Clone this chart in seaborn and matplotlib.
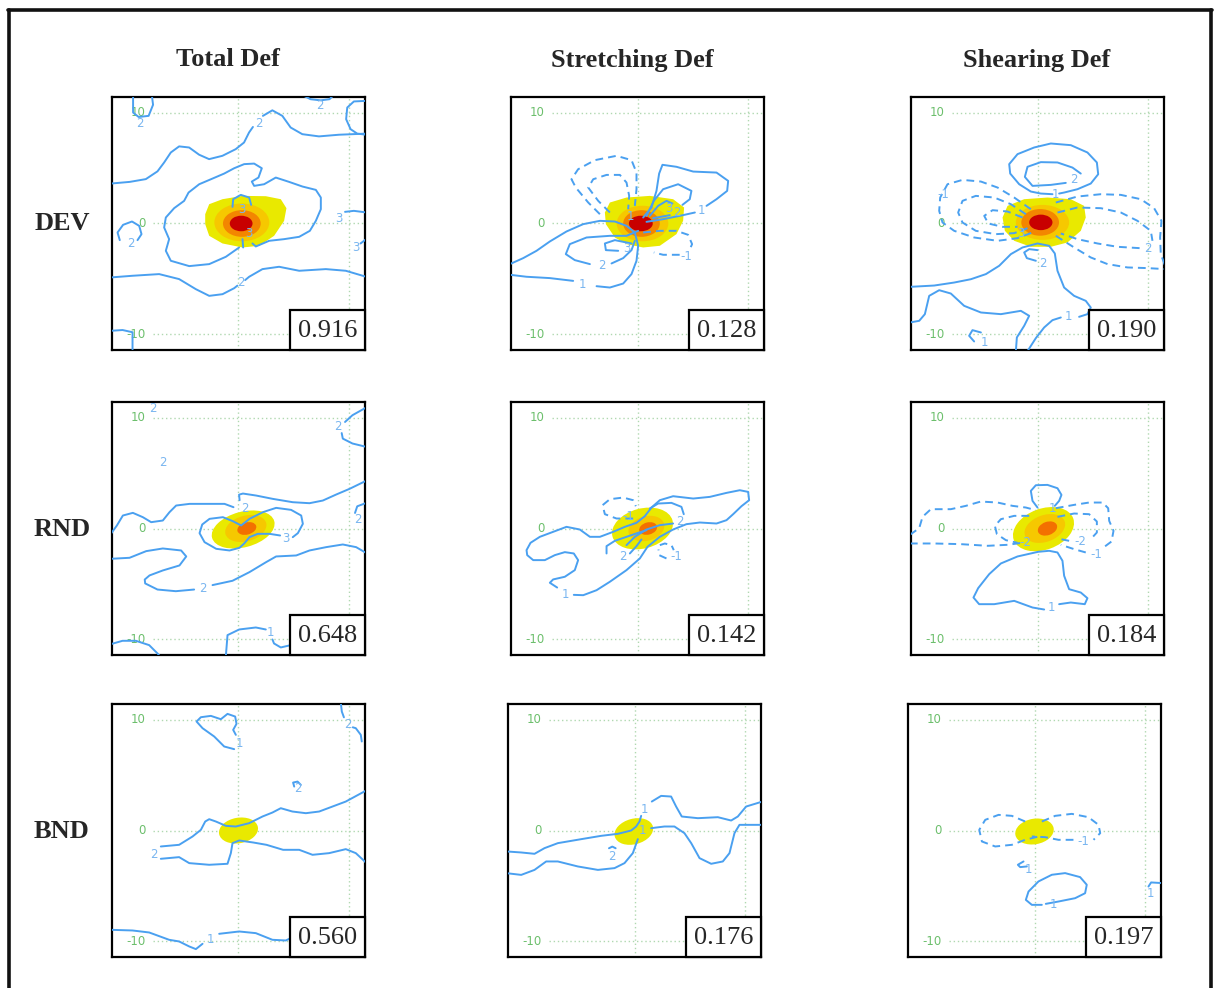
import matplotlib
matplotlib.use('Agg')
import matplotlib.pyplot as plt
import seaborn as sns
from matplotlib.patches import Ellipse, Polygon, Rectangle
from matplotlib.lines import Line2D

sns.set_style('white')
plt.rcParams['font.family'] = ['DejaVu Sans']

# ======================
# DATA (grid units)
# ======================
col_titles = ['Total Def', 'Stretching Def', 'Shearing Def']
row_titles = ['DEV', 'RND', 'BND']
scores = [[0.916, 0.128, 0.190],
          [0.648, 0.142, 0.184],
          [0.560, 0.176, 0.197]]
ytick_values = [10, 0, -10]

# --- DEV / Total ---
dev_total_solid = [
    [(-9.5, 11.5), (-9.5, 10.0), (-9.0, 9.6), (-8.1, 9.7), (-7.7, 10.7), (-7.8, 11.5)],
    [(5.9, 11.5), (6.5, 11.2), (7.4, 11.1), (8.2, 11.2), (8.5, 11.5)],
    [(11.5, 11.05), (10.4, 11.0), (9.8, 10.45), (9.7, 9.4), (10.1, 8.5), (10.7, 8.1), (11.5, 8.0)],
    [(-11.5, 3.6), (-9.8, 3.75), (-8.35, 4.0), (-7.3, 4.7), (-6.7, 5.5), (-6.1, 6.4), (-5.35, 6.95),
     (-4.45, 6.85), (-3.55, 6.2), (-2.65, 5.8), (-1.45, 6.1), (-0.25, 6.7), (0.5, 7.3), (0.95, 8.2), (1.3, 8.7)],
    [(2.2, 9.7), (3.05, 10.2), (3.95, 9.7), (4.7, 8.65), (5.75, 8.05), (7.25, 7.85), (9.05, 8.0), (11.5, 8.1)],
    [(0.06, -2.16), (-1.14, -3.0), (-2.64, -3.66), (-4.44, -3.84), (-6.1, -3.36), (-6.55, -2.46), (-6.25, -1.41),
     (-6.7, -0.36), (-6.55, 0.54), (-5.8, 1.38), (-4.9, 2.04), (-4.5, 2.79), (-3.54, 3.54), (-2.34, 4.05),
     (-1.29, 4.5), (-0.39, 4.98), (0.51, 5.35), (1.41, 5.4), (2.1, 4.98), (1.8, 4.14), (1.2, 3.78), (1.41, 3.39),
     (2.31, 3.54), (3.36, 4.14), (4.56, 3.75), (5.77, 3.33), (6.97, 3.03), (7.42, 2.34), (7.42, 1.29),
     (6.97, 0.24), (6.43, -0.66), (5.47, -1.2), (4.11, -1.41), (2.76, -1.56), (1.56, -2.07), (1.26, -1.8)],
    [(-0.54, 1.5), (-0.48, 2.19), (0.21, 2.58), (0.96, 2.34), (1.14, 1.68)],
    [(0.36, -1.41), (0.42, -2.16)],
    [(-11.5, -4.86), (-9.55, -4.71), (-7.15, -4.56), (-5.35, -5.01), (-3.84, -5.92), (-2.64, -6.52),
     (-1.44, -6.37), (-0.39, -5.83), (-0.1, -5.6)],
    [(0.6, -5.1), (0.96, -4.8), (2.16, -4.11), (3.66, -3.9), (5.47, -4.26), (7.87, -4.11), (9.67, -4.26), (11.5, -4.8)],
    [(-10.7, -1.5), (-10.9, -0.81), (-10.4, -0.12), (-9.6, 0.18), (-8.95, -0.21), (-8.74, -0.96), (-9.1, -1.5)],
    [(9.6, 1.05), (10.4, 1.14), (11.5, 1.0)],
    [(11.5, -1.41), (11.0, -1.8)],
    [(-11.5, -9.67), (-10.45, -9.6), (-9.55, -9.8), (-9.55, -11.5)],
]
dev_total_dashed = []
dev_total_labels = [(1.8, 9.0, '2'), (-8.9, 9.05, '2'), (7.3, 10.6, '2'), (0.2, -5.32, '2'), (-9.7, -1.8, '2'),
                    (9.0, 0.48, '3'), (10.6, -2.16, '3'), (0.3, 1.29, '3'), (0.9, -0.87, '3')]
dev_total_yellow = [(-3.0, 0.84), (-2.64, 1.74), (-1.44, 2.19), (0.36, 2.49), (2.46, 2.46), (3.81, 2.19),
                    (4.32, 1.38), (4.11, 0.24), (3.21, -1.11), (1.86, -2.01), (0.36, -2.16), (-1.44, -1.8),
                    (-2.64, -1.11), (-3.0, -0.06)]
dev_total_cores = [(0.3, 0.1, 4.95, 3.4, 0), (0.3, 0.0, 3.4, 2.4, 0), (0.24, 0.0, 2.05, 1.4, 0)]

# --- DEV / Stretching ---
dev_stretch_solid = [
    [(-11.5, -3.66), (-10.3, -3.12), (-9.1, -2.46), (-7.9, -1.62), (-6.4, -0.72), (-4.9, -0.06), (-3.39, 0.24),
     (-2.04, 0.18), (-0.99, -0.21), (-0.24, -0.81), (0.06, -2.01), (-0.09, -3.36), (-0.54, -4.56), (-1.29, -5.41),
     (-2.49, -5.77), (-3.69, -5.65)],
    [(-5.8, -5.17), (-7.9, -4.92), (-10.0, -4.8), (-11.5, -4.62)],
    [(0.06, -0.66), (-0.99, -1.11), (-2.49, -1.11), (-4.59, -1.26), (-6.1, -1.86), (-6.46, -2.76), (-5.65, -3.3),
     (-4.29, -3.66)],
    [(-2.34, -3.6), (-1.29, -3.12), (-0.54, -2.4), (-0.24, -1.56)],
    [(-0.54, -1.8), (-2.04, -1.5), (-2.94, -1.8), (-2.85, -2.4), (-1.74, -2.46)],
    [(0.51, 0.54), (1.26, 1.44), (1.71, 2.94), (1.95, 4.5), (2.25, 5.29), (3.51, 5.11), (5.02, 4.68), (7.12, 4.59),
     (8.17, 3.84), (8.08, 2.94), (7.12, 2.19), (6.22, 1.59)],
    [(5.17, 0.99), (3.81, 0.69), (2.31, 0.39), (0.81, 0.15)],
    [(0.81, 0.69), (1.47, 2.04), (2.31, 3.09), (3.66, 3.54), (4.86, 2.94), (4.71, 2.19), (4.05, 1.68)],
    [(2.91, 0.75), (1.41, 0.48)],
    [(1.11, 0.69), (1.86, 1.59), (2.61, 2.04), (3.15, 1.8)],
]
dev_stretch_dashed = [
    [(-3.39, 0.84), (-4.44, 1.89), (-5.56, 3.24), (-5.95, 3.99), (-5.35, 4.89), (-3.84, 5.71), (-1.89, 6.1),
     (-0.54, 5.71), (-0.09, 4.59), (-0.09, 3.09), (-0.24, 1.59)],
    [(-2.49, 0.99), (-3.54, 2.04), (-4.44, 3.24), (-3.99, 3.99), (-2.79, 4.38), (-1.59, 4.38), (-0.99, 3.69),
     (-0.75, 2.49), (-0.84, 1.29)],
    [(0.51, -0.81), (2.01, -0.66), (3.51, -0.66), (4.56, -1.02), (4.92, -1.86), (4.65, -2.46)],
    [(3.8, -2.82), (2.31, -2.82), (1.47, -2.61)],
]
dev_stretch_labels = [(-4.95, -5.47, '1'), (-3.24, -3.81, '2'), (-0.99, -2.22, '3'), (5.77, 1.14, '1'),
                      (3.57, 0.99, '2'), (2.85, 1.38, '3'), (4.41, -3.0, '-1'), (-0.6, 0.6, '1')]
dev_stretch_yellow = [(-2.94, 0.99), (-2.49, 1.89), (-0.99, 2.34), (1.11, 2.49), (3.21, 2.19), (4.2, 1.44),
                      (4.11, 0.24), (3.51, -0.96), (2.01, -2.01), (0.51, -2.16), (-0.99, -1.86), (-2.04, -1.26),
                      (-2.85, -0.06)]
dev_stretch_cores = [(0.45, 0.0, 4.65, 3.2, 0), (0.36, 0.0, 3.3, 2.4, 0), (0.3, 0.0, 2.15, 1.4, 0)]

# --- DEV / Shearing ---
dev_shear_solid = [
    [(1.35, 2.64), (0.3, 2.7), (-0.6, 2.88), (-1.65, 3.54), (-2.46, 4.5), (-2.55, 5.35), (-1.8, 6.25), (-0.3, 6.85),
     (1.2, 7.21), (3.0, 7.06), (4.5, 6.4), (5.35, 5.5), (5.47, 4.44), (4.8, 3.6), (3.6, 3.09), (2.4, 2.79),
     (1.95, 2.7)],
    [(2.55, 3.66), (1.2, 3.48), (-0.45, 3.39), (-1.14, 4.2), (-0.9, 5.11), (0.3, 5.53), (1.8, 5.5), (3.15, 5.04),
     (3.9, 4.5)],
    [(-0.15, -3.36), (-0.96, -3.12), (-1.2, -2.61), (-0.75, -2.31), (0.0, -2.4)],
    [(-11.5, -5.71), (-9.31, -5.59), (-7.51, -5.32), (-6.0, -5.02), (-4.65, -4.56), (-3.45, -3.81), (-2.4, -2.76),
     (-1.35, -2.16), (0.0, -1.8), (1.05, -2.01), (1.56, -2.7), (1.8, -4.26), (2.4, -5.77), (3.3, -6.52),
     (4.35, -6.97), (4.8, -7.57), (4.5, -8.17), (3.75, -8.41)],
    [(2.1, -8.47), (1.35, -8.71), (0.6, -9.37), (-0.15, -10.33), (-0.9, -11.5)],
    [(-1.95, -11.5), (-1.86, -10.27), (-1.2, -9.22), (-0.75, -8.32), (-1.5, -7.87), (-3.3, -8.17), (-5.1, -8.02),
     (-6.61, -7.42), (-7.81, -6.31), (-8.86, -6.01), (-9.76, -6.52), (-10.15, -8.17), (-10.66, -8.77), (-11.5, -8.92)],
    [(-5.1, -9.82), (-5.86, -9.61), (-6.16, -10.12), (-5.71, -10.63)],
]
dev_shear_dashed = [
    [(1.65, 1.89), (3.6, 2.43), (5.71, 2.64), (7.51, 2.58), (9.31, 2.19), (10.51, 1.38), (11.17, 0.24),
     (11.05, -1.26), (11.11, -2.76), (11.5, -3.81)],
    [(1.65, -1.11), (3.3, -2.16), (4.8, -3.06), (6.31, -3.66), (8.11, -3.96), (9.91, -4.02), (11.5, -4.11)],
    [(1.8, 0.99), (3.6, 1.44), (5.71, 1.38), (7.51, 0.99), (9.01, 0.24), (10.21, -0.66), (10.36, -1.56)],
    [(9.2, -2.22), (7.21, -2.1), (5.41, -1.8), (3.6, -1.41), (2.1, -0.9)],
    [(-0.6, 1.29), (-2.1, 2.34), (-3.6, 3.24), (-5.1, 3.78), (-6.76, 3.93), (-8.11, 3.54), (-8.77, 2.34),
     (-8.86, 1.14), (-8.56, 0.09), (-7.51, -0.66), (-5.71, -1.26), (-3.6, -1.56), (-1.8, -1.32), (-0.45, -0.81)],
    [(-1.05, 0.84), (-2.4, 1.74), (-3.9, 2.34), (-5.56, 2.49), (-6.76, 2.04), (-7.15, 0.99), (-6.76, 0.09),
     (-5.56, -0.66), (-3.75, -0.96), (-2.1, -0.87), (-0.9, -0.42)],
    [(-1.35, 0.54), (-2.7, 1.08), (-4.05, 1.2), (-4.8, 0.69), (-4.44, 0.0), (-3.15, -0.3), (-1.8, -0.3)],
]
dev_shear_labels = [(1.65, 2.64, '1'), (3.24, 4.0, '2'), (-8.5, 2.6, '-1'), (9.91, -2.22, '2'),
                    (0.45, -3.57, '2'), (2.76, -8.41, '1'), (-4.8, -10.72, '1'), (-1.5, -0.87, '3')]
dev_shear_yellow = [(-3.15, 0.54), (-2.7, 1.59), (-1.2, 2.19), (0.9, 2.34), (3.0, 2.19), (4.2, 1.59), (4.35, 0.54),
                    (3.9, -0.66), (2.7, -1.71), (1.2, -2.1), (-0.6, -2.1), (-2.1, -1.56), (-2.94, -0.66)]
dev_shear_cores = [(0.45, 0.1, 4.8, 3.15, 0), (0.24, 0.1, 3.4, 2.4, 0), (0.3, 0.1, 2.1, 1.4, 0)]

# --- RND / Total ---
rnd_total_solid = [
    [(-11.5, -0.48), (-10.96, 0.27), (-10.42, 1.17), (-9.52, 1.41), (-8.62, 1.02), (-7.87, 0.57), (-6.82, 0.72),
     (-6.22, 1.47), (-5.62, 2.07), (-4.41, 2.22), (-2.61, 2.22), (-1.26, 2.22), (-0.45, 1.92)],
    [(0.1, 2.55), (0.05, 3.05), (0.4, 3.15), (1.59, 2.97), (3.09, 2.67), (4.89, 2.37), (6.4, 2.28), (7.6, 2.52),
     (8.8, 3.06), (10.0, 3.57), (11.5, 4.3)],
    [(11.5, 10.9), (10.27, 10.21), (9.6, 9.6)],
    [(9.3, 8.6), (9.4, 8.1), (10.27, 7.66), (11.5, 7.36)],
    [(11.5, 2.3), (10.7, 2.0), (10.5, 1.4)],
    [(3.75, -0.63), (2.79, -0.48), (1.74, -0.48), (0.99, -0.78), (0.54, -1.32), (0.09, -1.74), (-0.81, -1.98),
     (-2.01, -1.83), (-3.06, -1.23), (-3.51, -0.42), (-3.27, 0.36), (-2.61, 0.87), (-1.41, 1.02), (-0.51, 0.66),
     (0.24, 0.27), (0.99, 0.87), (2.19, 1.47), (3.39, 1.86), (4.74, 1.68), (5.65, 1.17), (5.8, 0.42),
     (5.35, -0.42), (4.89, -0.78)],
    [(-11.5, -2.73), (-9.82, -2.64), (-8.32, -2.04), (-6.82, -1.8), (-5.17, -1.98), (-4.71, -2.52), (-5.32, -3.33),
     (-6.82, -3.78), (-8.02, -4.23), (-8.45, -4.6), (-8.41, -4.95), (-7.3, -5.5), (-5.65, -5.65), (-4.0, -5.5)],
    [(-2.34, -5.1), (-0.54, -4.71), (0.99, -3.93), (2.49, -3.03), (3.39, -2.52), (5.2, -2.43), (6.4, -1.98),
     (7.9, -1.68), (9.4, -1.44), (10.6, -1.68), (11.5, -2.2)],
    [(-11.5, -10.42), (-10.45, -10.12), (-9.25, -10.12), (-8.05, -10.51), (-7.3, -11.26), (-7.1, -11.5)],
    [(-1.14, -11.5), (-0.99, -9.61), (0.06, -9.1), (1.56, -8.92), (2.46, -9.1)],
    [(3.06, -10.0), (3.2, -10.36), (3.81, -10.72), (4.71, -10.51)],
]
rnd_total_dashed = []
rnd_total_labels = [(0.54, 1.83, '2'), (4.3, -0.87, '3'), (9.0, 9.16, '2'), (10.75, 0.8, '2'), (-3.2, -5.4, '2'),
                    (2.85, -9.35, '1'), (-7.75, 10.8, '2'), (-6.85, 5.95, '2')]
rnd_total_yellow = None
rnd_total_cores = [(0.42, -0.09, 5.8, 3.2, 15), (0.66, 0.0, 3.8, 2.3, 15), (0.75, 0.0, 1.75, 1.1, 15)]

# --- RND / Stretching ---
rnd_stretch_solid = [
    [(-7.24, -5.32), (-7.9, -4.89), (-7.6, -4.59), (-6.55, -4.35), (-5.65, -3.75), (-5.35, -2.85), (-5.74, -2.25),
     (-6.55, -2.13), (-7.45, -2.4), (-8.35, -2.85), (-9.4, -2.85), (-9.94, -2.4), (-10.0, -1.95), (-9.64, -1.29),
     (-8.8, -0.75), (-7.6, -0.3), (-6.4, 0.15), (-5.2, -0.09), (-4.29, -0.75), (-3.39, -0.75), (-2.19, -0.3),
     (-1.14, 0.15), (-0.09, 0.51), (0.66, 1.11), (1.26, 1.89), (2.01, 2.55), (3.21, 2.91), (5.02, 2.7),
     (6.52, 2.85), (8.02, 3.21), (9.22, 3.45), (9.97, 3.3), (10.06, 2.55), (9.37, 2.01), (8.62, 1.29),
     (8.02, 0.75), (7.12, 0.45), (5.62, 0.54), (4.41, 0.39), (3.21, -0.09), (2.01, -0.75), (0.9, -1.65),
     (0.21, -2.7), (-0.99, -3.75), (-2.49, -4.8), (-3.69, -5.56), (-4.89, -6.01), (-5.74, -5.98)],
    [(1.11, 1.8), (1.86, 2.25), (3.06, 2.31), (3.96, 1.95), (4.17, 1.29)],
    [(3.21, 0.45), (2.01, 0.3), (0.81, -0.09), (-0.24, -0.75), (-0.99, -1.5)],
    [(-2.79, -2.25), (-2.79, -1.59), (-2.04, -1.11), (-0.99, -0.75), (0.06, -0.39), (0.81, -0.15)],
    [(-0.69, -2.25), (-0.09, -1.59), (0.36, -0.99)],
]
rnd_stretch_dashed = [
    [(-0.39, 0.9), (-1.89, 0.9), (-2.94, 1.29), (-3.15, 2.1), (-2.49, 2.64), (-1.29, 2.79), (-0.39, 2.55),
     (-0.15, 2.01)],
    [(2.01, -1.5), (2.46, -1.35), (3.06, -1.5), (3.27, -1.95)],
    [(2.61, -2.7), (1.95, -2.4), (1.89, -1.89)],
]
rnd_stretch_labels = [(-6.46, -5.92, '1'), (3.81, 0.66, '2'), (-1.29, -2.55, '2'), (-0.84, 1.11, '-1'),
                      (3.51, -2.55, '-1')]
rnd_stretch_yellow = None
rnd_stretch_cores = [(0.45, 0.0, 5.6, 3.6, 15), (0.8, 0.0, 3.3, 2.2, 15), (0.96, 0.0, 1.65, 1.1, 15)]

# --- RND / Shearing ---
rnd_shear_solid = [
    [(1.56, 2.04), (1.95, 2.49), (2.16, 3.03), (1.8, 3.63), (0.9, 3.93), (-0.15, 3.9), (-0.6, 3.39),
     (-0.45, 2.49), (0.0, 1.89)],
    [(1.95, -6.82), (3.0, -6.67), (4.26, -6.82), (4.5, -6.28), (3.9, -5.77), (2.85, -5.47), (2.4, -4.26),
     (2.25, -2.91), (1.8, -2.16), (1.05, -2.01), (0.06, -2.1), (-1.8, -2.52), (-3.3, -3.15), (-4.35, -4.11),
     (-5.35, -5.38), (-5.77, -6.22), (-5.26, -6.82), (-3.9, -6.82), (-2.1, -6.52), (-0.45, -7.12), (0.6, -7.3)],
]
rnd_shear_dashed = [
    [(-11.5, -0.57), (-10.66, 0.03), (-10.36, 1.05), (-9.61, 1.74), (-7.81, 1.74), (-6.46, 2.04), (-5.11, 2.43),
     (-3.6, 2.34), (-2.25, 2.04), (-1.05, 1.89), (-0.15, 1.65)],
    [(-11.5, -1.35), (-9.31, -1.35), (-6.91, -1.41), (-4.5, -1.56), (-2.7, -1.47), (-1.2, -1.26)],
    [(1.65, 1.83), (3.3, 2.13), (4.65, 2.34), (5.86, 2.34), (6.37, 1.83), (6.46, 0.69), (6.85, -0.21),
     (6.67, -1.17), (6.07, -1.62)],
    [(4.35, -2.16), (3.3, -1.86), (2.1, -1.47)],
    [(-0.75, 1.14), (-2.1, 1.14), (-3.3, 0.84), (-3.84, 0.24), (-3.66, -0.51), (-2.85, -1.05), (-1.8, -1.29)],
    [(1.8, 1.05), (3.3, 1.35), (4.65, 1.29), (5.35, 0.63), (5.35, -0.36), (4.8, -0.96)],
    [(2.85, -1.11), (2.1, -0.96)],
]
rnd_shear_labels = [(1.35, 1.83, '1'), (1.26, -7.12, '1'), (5.26, -2.31, '-1'), (-1.14, -1.26, '-2'),
                    (3.9, -1.17, '-2')]
rnd_shear_yellow = None
rnd_shear_cores = [(0.54, -0.06, 5.7, 3.7, 20), (0.66, 0.0, 3.8, 2.4, 20), (0.9, 0.0, 1.8, 1.2, 20)]

# --- BND / Total ---
bnd_total_solid = [
    [(-0.39, 7.33), (-1.29, 7.57), (-2.19, 8.47), (-3.24, 9.22), (-3.78, 9.82), (-3.39, 10.21), (-2.49, 10.33),
     (-1.59, 10.03), (-0.99, 10.51), (-0.3, 10.27), (-0.18, 9.61), (-0.48, 9.07), (-0.24, 8.62)],
    [(9.22, 11.5), (9.31, 10.72), (9.5, 10.2)],
    [(10.3, 9.3), (10.57, 9.22), (11.02, 8.62), (11.11, 8.02)],
    [(5.02, 3.96), (4.92, 4.32), (5.32, 4.41), (5.62, 4.11)],
    [(-7.0, -1.44), (-5.35, -1.29), (-4.14, -0.54), (-3.39, 0.06), (-3.0, 0.81), (-2.64, 1.02), (-2.04, 0.81),
     (-1.14, 0.42), (-0.24, 0.36), (0.96, 0.66), (2.16, 1.26), (3.06, 1.62), (3.81, 2.01), (4.86, 1.71),
     (6.07, 1.56), (7.27, 1.71), (8.47, 2.16), (9.67, 2.61), (11.5, 3.6)],
    [(-7.0, -2.55), (-5.35, -2.4), (-4.44, -2.94), (-2.64, -3.09), (-0.99, -3.0), (-0.69, -2.04), (-0.54, -1.14),
     (0.06, -0.9), (1.32, -1.08), (2.52, -1.29), (4.02, -1.74), (5.47, -1.74), (6.67, -2.19), (8.17, -2.04),
     (9.67, -1.68), (10.57, -2.04), (11.5, -2.9)],
    [(-11.5, -8.95), (-9.55, -9.01), (-8.05, -9.19), (-6.25, -9.85), (-5.35, -10.0), (-4.44, -10.45),
     (-3.84, -10.69), (-3.24, -10.21)],
    [(-1.74, -9.31), (0.06, -9.1), (1.56, -9.25), (3.06, -9.85), (4.26, -9.91), (4.71, -9.7)],
]
bnd_total_dashed = []
bnd_total_labels = [(0.12, 7.87, '1'), (9.82, 9.52, '2'), (5.32, 3.81, '2'), (-7.6, -2.13, '2'), (-2.49, -9.85, '1')]
bnd_total_yellow = None
bnd_total_cores = [(0.0, 0.0, 3.55, 2.3, 10)]

# --- BND / Stretching ---
bnd_stretch_solid = [
    [(-11.5, -1.89), (-10.21, -1.98), (-9.01, -2.1), (-8.11, -1.59), (-6.91, -1.14), (-4.8, -0.78), (-3.0, -0.48),
     (-1.5, -0.3), (-0.3, 0.0), (0.15, 0.36), (0.45, 0.81), (0.6, 1.32)],
    [(1.56, 2.61), (2.4, 3.12), (3.3, 3.06), (3.75, 2.16), (4.26, 1.26), (5.71, 1.11), (7.51, 1.2), (8.71, 0.9),
     (9.31, 1.26), (10.06, 2.16), (11.5, 2.6)],
    [(-11.5, -3.85), (-10.21, -4.0), (-9.01, -3.55), (-7.96, -2.79), (-6.91, -2.79), (-5.11, -3.24), (-3.3, -3.55),
     (-1.8, -3.39), (-0.9, -2.94), (-0.15, -2.04), (0.3, -0.78)],
    [(1.5, 0.21), (2.7, 0.36), (3.6, 0.36), (4.5, -0.24), (5.11, -1.14), (5.86, -2.49), (6.91, -3.0), (7.96, -2.79),
     (8.56, -2.04), (9.01, -0.24), (9.46, 0.51), (11.5, 0.51)],
    [(-2.3, -1.6), (-2.0, -1.45), (-1.7, -1.6)],
]
bnd_stretch_dashed = []
bnd_stretch_labels = [(0.9, 1.92, '1'), (0.75, 0.0, '1'), (-2.01, -2.34, '2')]
bnd_stretch_yellow = None
bnd_stretch_cores = [(-0.06, -0.09, 3.55, 2.3, 15)]

# --- BND / Shearing ---
bnd_shear_solid = [
    [(-0.99, -2.79), (-1.5, -3.09), (-1.29, -3.3), (-0.69, -3.24)],
    [(1.02, -6.61), (2.16, -6.4), (3.66, -6.1), (4.56, -5.65), (4.71, -4.89), (4.11, -4.2), (2.76, -3.84),
     (1.56, -3.99), (0.36, -4.59), (-0.54, -5.5), (-0.78, -6.25), (-0.24, -6.7), (0.66, -6.7)],
    [(11.5, -4.74), (10.51, -4.68), (10.27, -5.05)],
]
bnd_shear_dashed = [
    [(-0.84, 0.81), (-2.04, 1.32), (-3.24, 1.41), (-4.44, 0.96), (-4.98, 0.06), (-4.74, -0.99), (-3.54, -1.44),
     (-2.04, -1.29), (-0.84, -0.84), (0.36, -0.54)],
    [(0.66, 0.81), (1.86, 1.32), (3.36, 1.5), (4.86, 1.2), (5.77, 0.51), (5.92, -0.24), (5.32, -0.84)],
    [(3.51, -0.84), (2.16, -0.84), (0.96, -0.6), (-0.24, -0.54)],
]
bnd_shear_labels = [(4.41, -0.99, '-1'), (-0.54, -3.48, '1'), (1.71, -6.7, '1'), (10.42, -5.65, '1')]
bnd_shear_yellow = None
bnd_shear_cores = [(0.0, -0.09, 3.5, 2.3, 10)]

panels = [
    [(dev_total_solid, dev_total_dashed, dev_total_labels, dev_total_yellow, dev_total_cores),
     (dev_stretch_solid, dev_stretch_dashed, dev_stretch_labels, dev_stretch_yellow, dev_stretch_cores),
     (dev_shear_solid, dev_shear_dashed, dev_shear_labels, dev_shear_yellow, dev_shear_cores)],
    [(rnd_total_solid, rnd_total_dashed, rnd_total_labels, rnd_total_yellow, rnd_total_cores),
     (rnd_stretch_solid, rnd_stretch_dashed, rnd_stretch_labels, rnd_stretch_yellow, rnd_stretch_cores),
     (rnd_shear_solid, rnd_shear_dashed, rnd_shear_labels, rnd_shear_yellow, rnd_shear_cores)],
    [(bnd_total_solid, bnd_total_dashed, bnd_total_labels, bnd_total_yellow, bnd_total_cores),
     (bnd_stretch_solid, bnd_stretch_dashed, bnd_stretch_labels, bnd_stretch_yellow, bnd_stretch_cores),
     (bnd_shear_solid, bnd_shear_dashed, bnd_shear_labels, bnd_shear_yellow, bnd_shear_cores)],
]

# ======================
# STYLE / LAYOUT
# ======================
LINE = '#4aa0f0'
LABEL = '#7ab6f0'
GREEN = '#6cbf6c'
GRID = '#b0d8b0'
# yellow, gold, orange, red (DEV) / yellow, gold, orange (RND)
SHADES_DEV = ['#e9e900', '#f6c800', '#f38600', '#c80000']
SHADES_RND = ['#e9e900', '#f6c800', '#f37000']
LIM = 11.4

W, H = 1214, 988
ax_left = [[112, 511, 911], [112, 511, 911], [112, 508, 908]]
ax_top = [97, 402, 704]
ax_size = 253

fig = plt.figure(figsize=(W / 100, H / 100), dpi=100)


def draw_line(ax, pts, dashed=False):
    xs = [p[0] for p in pts]
    ys = [p[1] for p in pts]
    sns.lineplot(x=xs, y=ys, sort=False, estimator=None, ax=ax, color=LINE, lw=1.4, zorder=4)
    ln = ax.lines[-1]
    ln.set_solid_joinstyle('round')
    ln.set_solid_capstyle('round')
    if dashed:
        ln.set_dashes((4, 2.6))


for r in range(3):
    for c in range(3):
        solid, dashed, labels, yellow, cores = panels[r][c]
        x0 = ax_left[r][c] / W
        y0 = 1 - (ax_top[r] + ax_size) / H
        ax = fig.add_axes([x0, y0, ax_size / W, ax_size / H])
        ax.set_xlim(-LIM, LIM)
        ax.set_ylim(-LIM, LIM)
        ax.set_xticks([])
        ax.set_yticks([])
        for s in ax.spines.values():
            s.set_color('black')
            s.set_linewidth(1.6)

        # dotted guide lines
        for gx in [0, 10]:
            ax.axvline(gx, color=GRID, ls=(0, (1, 2)), lw=1.0, zorder=1)
        for gy in ytick_values:
            ax.plot([-7.7, LIM], [gy, gy], color=GRID, ls=(0, (1, 2)), lw=1.0, zorder=1)
            ax.text(-8.4, gy, str(gy), color=GREEN, fontsize=8.5, ha='right', va='center', zorder=2)

        # shaded core
        shades = SHADES_DEV if r == 0 else SHADES_RND
        if yellow is not None:
            ax.add_patch(Polygon(yellow, closed=True, fc=shades[0], ec='none', joinstyle='round', zorder=2))
            start = 1
        else:
            start = 0
        for i, (cx, cy, w, h, ang) in enumerate(cores):
            ax.add_patch(Ellipse((cx, cy), w, h, angle=ang, fc=shades[start + i], ec='none', zorder=2 + 0.1 * i))

        for pts in solid:
            if len(pts) > 1:
                draw_line(ax, pts)
        for pts in dashed:
            draw_line(ax, pts, dashed=True)
        for (lx, ly, txt) in labels:
            ax.text(lx, ly, txt, color=LABEL, fontsize=8.5, ha='center', va='center', zorder=5)

        # score box
        ax.add_patch(Rectangle((0.705, 0.0), 0.295, 0.16, transform=ax.transAxes, fc='white', ec='black',
                               lw=1.6, zorder=6, clip_on=False))
        ax.text(0.8525, 0.075, f'{scores[r][c]:.3f}', transform=ax.transAxes, ha='center', va='center',
                fontsize=19, family='Liberation Serif', zorder=7)

# column and row headers
col_x = [228, 632, 1037]
for c, t in enumerate(col_titles):
    fig.text(col_x[c] / W, 1 - 60 / H, t, ha='center', va='center', fontsize=19, fontweight='bold',
             family='Liberation Serif')
row_y = [224, 529, 832]
for r, t in enumerate(row_titles):
    fig.text(62 / W, 1 - row_y[r] / H, t, ha='center', va='center', fontsize=19, fontweight='bold',
             family='Liberation Serif')

# outer frame (top, left, right)
fig.add_artist(Line2D([8 / W, 1212 / W], [1 - 10 / H, 1 - 10 / H], color='#111111', lw=2.6))
fig.add_artist(Line2D([9 / W, 9 / W], [0, 1 - 10 / H], color='#111111', lw=2.6))
fig.add_artist(Line2D([1211 / W, 1211 / W], [0, 1 - 10 / H], color='#111111', lw=2.6))

fig.savefig('out.png', dpi=100)
